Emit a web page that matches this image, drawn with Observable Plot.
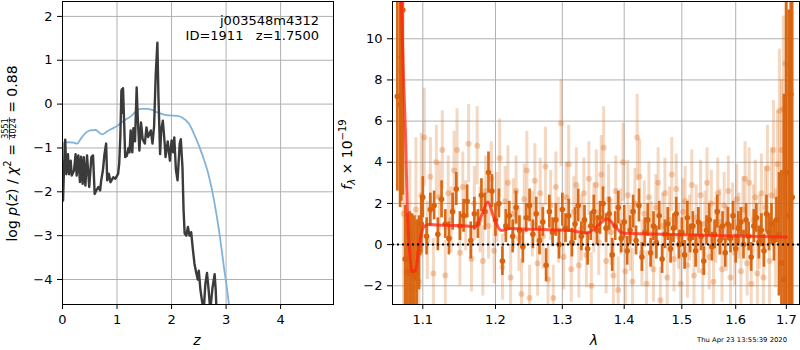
<!DOCTYPE html>
<html><head><meta charset="utf-8">
<script src="https://cdn.jsdelivr.net/npm/d3@7"></script>
<script src="https://cdn.jsdelivr.net/npm/@observablehq/plot@0.6"></script>
<style>
body{margin:0;background:#fff;}
#wrap{position:relative;width:800px;height:350px;font-family:"DejaVu Sans";background:#fff;}
#left,#right,#ov{position:absolute;top:0;}
#left{left:0}
#right{left:340px}
#ov{left:0;pointer-events:none}
</style></head><body>
<div id="wrap"><div id="left"></div><div id="right"></div><svg id="ov" width="800" height="350"></svg></div>
<script>
// ---------- tick labels ----------
const zTicks = [0,1,2,3,4];
const logpTicks = [-4,-3,-2,-1,0,1,2];
const lamTicks = [1.1,1.2,1.3,1.4,1.5,1.6,1.7];
const fluxTicks = [-2,0,2,4,6,8,10];

// ---------- texts ----------
const fieldName = "j003548m4312";
const idLine = "ID=1911\u00a0\u00a0\u00a0z=1.7500";
const stamp = "Thu Apr 23 13:55:39 2020";

// ---------- left panel: log p(z) (black) ----------
const pzZ = [0.01,0.03,0.05,0.07,0.10,0.12,0.15,0.17,0.21,0.24,0.26,0.29,0.32,0.34,0.37,0.39,0.42,0.45,0.49,0.53,
  0.56,0.59,0.62,0.66,0.69,0.71,0.74,0.77,0.80,0.82,0.85,0.88,0.93,0.97,1.02,1.04,1.06,1.08,1.09,1.10,
  1.11,1.13,1.15,1.18,1.21,1.23,1.25,1.28,1.30,1.33,1.36,1.38,1.41,1.44,1.47,1.51,1.54,1.57,1.62,1.65,
  1.68,1.71,1.74,1.76,1.79,1.81,1.84,1.87,1.89,1.93,1.97,2.00,2.03,2.05,2.08,2.11,2.15,2.17,2.20,2.22,
  2.24,2.27,2.30,2.33,2.36,2.39,2.42,2.45,2.48,2.50,2.53,2.56,2.59,2.62,2.65,2.68,2.71,2.75,2.79,2.81,2.83];
const pzLog = [-2.2,-1.36,-0.81,-1.6,-1.14,-1.6,-1.29,-1.63,-1.52,-1.14,-1.63,-1.17,-1.78,-1.2,-1.82,-1.21,-1.86,-1.17,-1.89,-1.21,
  -1.17,-2.05,-1.97,-1.89,-1.97,-1.74,-1.52,-1.14,-0.9,-1.74,-1.59,-1.78,-1.67,-1.7,-1.59,-1.36,-0.76,0.3,0.34,-0.2,
  0.36,-0.4,-1.21,-1.18,-1.0,-1.1,-0.6,-1.1,-0.55,-0.85,0.38,-0.3,-1.06,-0.42,-0.8,-0.9,-0.53,-0.75,-0.6,-0.9,
  -0.5,0.68,1.4,0.15,-1.14,-0.6,-0.38,-0.83,-1.21,-0.85,-1.29,-0.83,-1.1,-0.76,-1.5,-1.74,-0.9,-0.8,-1.44,-2.4,
  -2.95,-3.0,-2.8,-3.0,-2.92,-3.3,-3.64,-3.83,-4.0,-3.8,-4.24,-4.5,-4.7,-4.1,-3.85,-4.24,-4.7,-4.2,-3.88,-4.24,-4.9];

// ---------- left panel: prior (blue) ----------
const priorZ = [0.0,0.02,0.1,0.2,0.27,0.33,0.42,0.51,0.61,0.67,0.73,0.82,0.91,1.0,1.1,1.19,1.28,1.34,1.43,1.55,
  1.64,1.74,1.86,1.98,2.1,2.2,2.32,2.44,2.56,2.69,2.78,2.87,2.96,3.05,3.08];
const priorLog = [-1.2,-0.88,-0.87,-0.88,-0.9,-0.8,-0.66,-0.6,-0.59,-0.65,-0.69,-0.62,-0.56,-0.5,-0.4,-0.33,-0.25,-0.17,-0.11,-0.11,
  -0.13,-0.19,-0.24,-0.26,-0.27,-0.31,-0.45,-0.76,-1.14,-1.67,-2.2,-2.88,-3.71,-4.55,-4.9];

// ---------- right panel: model (red) ----------
const modelLam = [1.0700,1.0720,1.0750,1.0774,1.0797,1.0830,1.0861,1.0905,1.0948,1.1013,1.1080,1.1200,1.1400,1.1600,1.1717,1.1800,1.1890,1.1980,1.2080,1.2210,
  1.2500,1.2800,1.3130,1.3250,1.3366,1.3500,1.3650,1.3718,1.3800,1.3940,1.4000,1.5000,1.6000,1.7000];
const modelFlux = [14,11.8,8.0,5.4,1.83,-0.43,-1.33,-1.25,-0.12,0.86,0.98,0.95,0.93,0.9,0.86,1.4,2.07,1.3,0.69,0.78,
  0.75,0.72,0.69,0.62,0.56,0.75,1.15,1.26,1.05,0.61,0.55,0.48,0.42,0.37];

// ---------- right panel: dark spectrum ----------
const darkLam = [1.067,1.0705,1.072,1.074,1.077,1.080,1.083,1.086,1.089,1.092,1.095,1.098,
  1.100,1.105,1.110,1.115,1.120,1.125,1.130,1.135,1.140,1.145,
  1.150,1.155,1.160,1.165,1.170,1.175,1.180,1.185,1.190,1.195,
  1.200,1.205,1.210,1.215,1.220,1.225,1.230,1.235,1.240,1.245,
  1.250,1.255,1.260,1.265,1.270,1.275,1.280,1.285,1.290,1.295,
  1.300,1.305,1.310,1.315,1.320,1.325,1.330,1.335,1.340,1.345,
  1.350,1.355,1.360,1.365,1.370,1.375,1.380,1.385,1.390,1.395,
  1.400,1.405,1.410,1.415,1.420,1.425,1.430,1.435,1.440,1.445,
  1.450,1.455,1.460,1.465,1.470,1.475,1.480,1.485,1.490,1.495,
  1.500,1.505,1.510,1.515,1.520,1.525,1.530,1.535,1.540,1.545,
  1.550,1.555,1.560,1.565,1.570,1.575,1.580,1.585,1.590,1.595,
  1.600,1.605,1.610,1.615,1.620,1.625,1.630,1.635,1.640,1.645,
  1.650,1.655,1.660,1.665,1.670,1.675,1.680,1.685,1.690,
  1.695,1.700,1.705,1.709,1.712];
const darkFlux = [7.2,6.8,9.1,11.4,-0.7,-1.3,-1.4,-1.3,-1.6,-1.4,-0.4,1.0,
  2.3,0.4,1.7,1.9,0.5,2.2,1.0,0.3,1.6,2.7,
  0.9,1.4,2.1,0.2,1.5,1.0,2.4,1.6,3.5,2.6,
  1.2,2.0,-0.8,0.9,1.4,0.4,1.8,0.7,-0.1,1.3,
  1.9,0.5,1.5,0.2,1.1,-1.0,1.6,0.6,1.2,0.0,
  1.7,0.8,1.4,0.1,1.0,1.9,0.4,1.2,-0.2,0.9,
  1.6,0.7,1.3,2.0,0.8,1.5,-0.5,0.9,1.8,0.3,
  1.1,-0.3,0.7,1.6,0.2,1.9,-0.6,0.6,1.2,-0.4,
  0.9,0.1,1.4,-0.7,0.5,1.0,-0.2,0.8,1.5,0.0,
  0.6,-0.5,1.3,0.3,0.9,-0.3,1.1,0.4,-0.8,0.7,
  1.2,-0.1,0.5,1.6,0.2,0.9,-0.4,1.0,0.3,1.4,
  -0.2,0.8,1.1,0.0,1.2,0.4,-0.6,0.9,1.3,0.1,
  0.7,-0.3,1.5,0.6,1.0,0.2,1.2,0.5,-0.9,
  -1.7,3.5,1.4,7.3,2.3];
const darkErr = [4.6,5.0,7.0,9.0,2.6,2.8,3.0,2.8,3.0,2.6,1.8,1.4,
  1.0,0.9,0.8,0.7,0.8,0.9,0.7,0.8,0.9,0.8,
  0.7,0.8,0.8,0.9,0.8,0.7,0.8,0.9,1.0,0.8,
  0.8,0.7,0.7,0.8,0.7,0.8,0.8,0.7,0.8,0.7,
  0.8,0.7,0.8,0.7,0.7,0.8,0.8,0.7,0.8,0.7,
  0.8,0.7,0.8,0.7,0.8,0.8,0.7,0.7,0.8,0.7,
  0.8,0.7,0.8,0.8,0.7,0.8,0.8,0.7,0.8,0.7,
  0.8,0.7,0.7,0.8,0.7,0.8,0.7,0.7,0.8,0.7,
  0.7,0.8,0.7,0.7,0.7,0.8,0.7,0.7,0.8,0.7,
  0.7,0.7,0.8,0.7,0.7,0.8,0.7,0.7,0.7,0.7,
  0.8,0.7,0.7,0.8,0.7,0.7,0.7,0.8,0.7,0.7,
  0.7,0.8,0.7,0.7,0.8,0.7,0.7,0.8,0.7,0.8,
  0.8,0.8,0.9,0.9,1.0,1.0,1.1,3.0,4.5,
  9.0,10,10,12,12];

// ---------- right panel: light spectrum ----------
const lightLam = [1.071,1.075,1.079,1.083,1.087,1.091,1.095,1.098,1.102,1.106,
  1.110,1.114,1.118,1.122,1.126,1.130,1.134,1.138,1.142,1.146,
  1.150,1.154,1.158,1.162,1.166,1.170,1.174,1.178,1.182,1.186,
  1.190,1.194,1.198,1.202,1.206,1.210,1.214,1.218,1.222,1.226,
  1.230,1.234,1.238,1.242,1.246,1.250,1.254,1.258,1.262,1.266,
  1.270,1.274,1.278,1.282,1.286,1.290,1.294,1.298,1.302,1.306,
  1.310,1.314,1.318,1.322,1.326,1.330,1.334,1.338,1.342,1.346,
  1.350,1.354,1.358,1.362,1.366,1.370,1.374,1.378,1.382,1.386,
  1.390,1.394,1.398,1.402,1.406,1.410,1.414,1.418,1.422,1.426,
  1.430,1.434,1.438,1.442,1.446,1.450,1.454,1.458,1.462,1.466,
  1.470,1.474,1.478,1.482,1.486,1.490,1.494,1.498,1.502,1.506,
  1.510,1.514,1.518,1.522,1.526,1.530,1.534,1.538,1.542,1.546,
  1.550,1.554,1.558,1.562,1.566,1.570,1.574,1.578,1.582,1.586,
  1.590,1.594,1.598,1.602,1.606,1.610,1.614,1.618,1.622,1.626,
  1.630,1.634,1.638,1.642,1.646,1.650,1.654,1.658,1.662,1.666,
  1.670,1.674,1.678,1.682,1.686,1.690,1.694,1.698];
const lightFlux = [8.5,1.5,-1.4,0.6,-2.1,1.7,-1.8,2.4,5.2,0.2,
  3.3,-1.4,4.0,2.3,4.6,-1.5,2.5,1.2,3.6,4.6,
  -0.4,2.8,1.4,4.9,-0.7,2.0,4.8,1.2,-0.8,2.6,
  0.9,3.2,-0.3,1.8,4.2,-1.1,2.1,3.0,-1.6,1.5,
  2.6,0.3,-2.4,2.2,3.6,-2.6,1.0,3.1,-0.9,2.5,
  0.4,3.8,-1.7,1.9,-2.6,2.8,0.7,5.9,-0.6,2.3,
  3.9,-1.2,1.6,2.9,-1.0,0.8,2.5,-0.5,3.2,-2.0,
  1.3,2.9,0.1,3.4,4.7,-0.8,2.2,0.6,-1.5,2.6,
  -2.2,1.1,4.0,-1.3,2.4,0.3,-1.8,2.0,5.2,3.3,
  -0.4,1.5,-1.9,2.3,0.5,-1.2,1.8,3.0,-2.7,0.9,
  2.5,-1.6,1.2,3.4,-0.7,2.7,0.4,-1.9,1.6,2.1,
  -1.0,0.8,2.9,-1.5,1.3,0.2,2.4,-1.3,1.0,3.0,
  -0.6,2.0,-1.8,0.7,2.5,1.1,-1.2,1.9,0.3,2.6,
  -1.6,1.4,-0.4,2.2,0.9,-1.3,1.7,3.2,-0.9,3.0,
  -1.9,1.2,2.3,-1.4,0.6,2.5,-1.6,1.8,3.7,-0.8,
  2.4,4.6,0.3,3.9,6.5,4.6,6.6,8.8];
const lightErr = [3.5,4.5,3.0,3.5,3.0,3.5,3.0,3.0,2.4,1.9,
  1.9,1.7,1.8,1.7,1.9,1.7,1.8,1.6,1.9,2.0,
  1.6,1.7,1.7,1.9,1.6,1.8,1.9,1.6,1.7,1.7,
  1.6,1.8,1.6,1.7,1.9,1.6,1.7,1.8,1.6,1.7,
  1.7,1.6,1.7,1.7,1.9,1.6,1.6,1.8,1.6,1.7,
  1.6,1.9,1.6,1.7,1.6,1.7,1.6,2.1,1.6,1.7,
  1.9,1.6,1.7,1.8,1.6,1.6,1.7,1.6,1.8,1.6,
  1.7,1.7,1.6,1.9,2.0,1.6,1.7,1.6,1.7,1.7,
  1.6,1.6,1.9,1.6,1.7,1.6,1.6,1.7,2.1,1.8,
  1.6,1.6,1.6,1.7,1.6,1.6,1.6,1.7,1.6,1.6,
  1.7,1.6,1.6,1.8,1.6,1.7,1.6,1.6,1.6,1.7,
  1.6,1.6,1.7,1.6,1.6,1.6,1.7,1.6,1.6,1.7,
  1.6,1.6,1.6,1.6,1.7,1.6,1.6,1.6,1.6,1.7,
  1.6,1.6,1.6,1.7,1.6,1.6,1.6,1.8,1.6,1.7,
  1.7,1.7,1.8,1.8,1.8,1.9,1.9,2.0,2.1,2.1,
  2.3,2.4,2.4,2.6,3.0,3.4,4.5,6.0];
const zeroLevel = [0];

// ---------- drawing ----------
const fmt = d => (d < 0 ? "\u2212" + Math.abs(d) : String(d));
const gridStyle = {stroke: "#b0b0b0", strokeOpacity: 1, strokeWidth: 1};
const axStyle = {tickSize: 5, tickPadding: 5, label: null, fontSize: 13};
const baseStyle = {fontFamily: "DejaVu Sans", fontSize: "13px", color: "black", background: "white", overflow: "visible"};
const orange = "#d9620c";

const leftChart = Plot.plot({
  width: 340, height: 350, marginLeft: 62, marginRight: 7, marginTop: 1, marginBottom: 46,
  style: baseStyle,
  x: {domain: [0, 4.97]},
  y: {domain: [-4.57, 2.34]},
  marks: [
    Plot.gridX(zTicks, gridStyle),
    Plot.gridY(logpTicks, gridStyle),
    Plot.lineY(priorLog, {x: priorZ, stroke: "#80b3db", strokeWidth: 1.8, curve: "monotone-x", clip: true}),
    Plot.lineY(pzLog, {x: pzZ, stroke: "#3b3b3b", strokeWidth: 2.4, clip: true}),
    Plot.frame({stroke: "black", strokeWidth: 1}),
    Plot.axisX(zTicks, {...axStyle, tickFormat: fmt}),
    Plot.axisY(logpTicks, {...axStyle, tickFormat: fmt})
  ]
});
document.getElementById("left").append(leftChart);

const dark = darkLam.map((lam, i) => ({lam, f: darkFlux[i], lo: darkFlux[i] - darkErr[i], hi: darkFlux[i] + darkErr[i]}));
const light = lightLam.map((lam, i) => ({lam, f: lightFlux[i], lo: lightFlux[i] - lightErr[i], hi: lightFlux[i] + lightErr[i]}));

const rightChart = Plot.plot({
  width: 460, height: 350, marginLeft: 52, marginRight: 1, marginTop: 1, marginBottom: 46,
  style: baseStyle,
  x: {type: "log", domain: [1.0608, 1.727]},
  y: {domain: [-2.91, 11.81]},
  marks: [
    Plot.gridX(lamTicks, gridStyle),
    Plot.gridY(fluxTicks, gridStyle),
    Plot.ruleX(light, {x: "lam", y1: "lo", y2: "hi", stroke: orange, strokeOpacity: 0.25, strokeWidth: 3, clip: true}),
    Plot.dot(light, {x: "lam", y: "f", fill: orange, fillOpacity: 0.3, r: 3, clip: true}),
    Plot.ruleX(dark, {x: "lam", y1: "lo", y2: "hi", stroke: orange, strokeOpacity: 0.95, strokeWidth: 2.7, clip: true}),
    Plot.dot(dark, {x: "lam", y: "f", fill: orange, r: 2.8, clip: true}),
    Plot.lineY(modelFlux, {x: modelLam, stroke: "#ff2410", strokeOpacity: 0.75, strokeWidth: 3, curve: "monotone-x", clip: true}),
    Plot.ruleY(zeroLevel, {stroke: "black", strokeWidth: 2, strokeDasharray: "2,3"}),
    Plot.frame({stroke: "black", strokeWidth: 1}),
    Plot.axisX(lamTicks, {...axStyle, tickFormat: d => d.toFixed(1)}),
    Plot.axisY(fluxTicks, {...axStyle, tickFormat: fmt})
  ]
});
document.getElementById("right").append(rightChart);

// ---------- overlay texts ----------
const ov = d3.select("#ov").style("font-family", "DejaVu Sans");
ov.append("text").attr("x", 319).attr("y", 25).attr("text-anchor", "end").attr("font-size", 13).text(fieldName);
ov.append("text").attr("x", 319).attr("y", 40).attr("text-anchor", "end").attr("font-size", 13).text(idLine);
ov.append("text").attr("x", 197).attr("y", 345).attr("text-anchor", "middle").attr("font-size", 14)
  .attr("font-style", "italic").text("z");
ov.append("text").attr("x", 594).attr("y", 345).attr("text-anchor", "middle").attr("font-size", 14)
  .attr("font-style", "italic").text("\u03bb");
ov.append("text").attr("x", 697).attr("y", 342).attr("font-size", 6.6).attr("textLength", 90)
  .attr("lengthAdjust", "spacingAndGlyphs").text(stamp);

// left y label with fraction
{
  const g = ov.append("g").attr("transform", "translate(16.7,153.5) rotate(-90)").attr("font-size", 14);
  const t1 = g.append("text").attr("x", 0).attr("y", 0);
  t1.append("tspan").text("log\u00a0");
  t1.append("tspan").attr("font-style", "italic").text("p");
  t1.append("tspan").text("(");
  t1.append("tspan").attr("font-style", "italic").text("z");
  t1.append("tspan").text(")\u00a0/\u00a0");
  t1.append("tspan").attr("font-style", "italic").text("\u03c7");
  t1.append("tspan").attr("font-size", 10).attr("dy", -6).text("2");
  t1.append("tspan").attr("dy", 6).text("\u00a0=\u00a0");
  const w1 = t1.node().getComputedTextLength();
  const num = g.append("text").attr("font-size", 8).attr("text-anchor", "middle").attr("y", -8.5).text("3551");
  const den = g.append("text").attr("font-size", 8).attr("text-anchor", "middle").attr("y", -1.2).text("4024");
  const fw = Math.max(num.node().getComputedTextLength(), den.node().getComputedTextLength()) + 2;
  num.attr("x", w1 + fw / 2); den.attr("x", w1 + fw / 2);
  g.append("line").attr("x1", w1).attr("x2", w1 + fw).attr("y1", -7.3).attr("y2", -7.3).attr("stroke", "black").attr("stroke-width", 0.7);
  const t3 = g.append("text").attr("x", w1 + fw).attr("y", 0).text("\u00a0=\u00a00.88");
  const total = w1 + fw + t3.node().getComputedTextLength();
  g.attr("transform", `translate(16.7,153.5) rotate(-90) translate(${-total / 2},0)`);
}
// right y label
{
  const g = ov.append("g").attr("font-size", 14);
  const t = g.append("text").attr("x", 0).attr("y", 0);
  t.append("tspan").attr("font-style", "italic").text("f");
  t.append("tspan").attr("font-size", 10).attr("dy", 3).attr("font-style", "italic").text("\u03bb");
  t.append("tspan").attr("dy", -3).text("\u00a0\u00d7\u00a010");
  t.append("tspan").attr("font-size", 10).attr("dy", -6).text("\u221219");
  const w = t.node().getComputedTextLength();
  g.attr("transform", `translate(351.5,154.5) rotate(-90) translate(${-w / 2},0)`);
}
</script>
</body></html>
